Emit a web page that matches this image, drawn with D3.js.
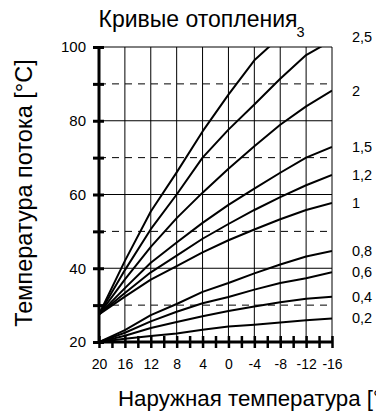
<!DOCTYPE html>
<html>
<head>
<meta charset="utf-8">
<script src="https://cdn.jsdelivr.net/npm/d3@7"></script>
<style>
  body { margin: 0; background: #fff; }
  svg { display: block; font-family: "Liberation Sans", Arial, sans-serif; }
</style>
</head>
<body>
<div id="chart"></div>
<script>
// Outside temperature points (x) and heating curves (flow temperature)
const temps = [20, 16, 12, 8, 4, 0, -4, -8, -12, -16];
const curveNames = ["3", "2,5", "2", "1,5", "1,2", "1", "0,8", "0,6", "0,4", "0,2"];
const curve3  = [27.5, 42.0, 55.4, 66.0, 77.1, 87.1, 96.4, 102.8];
const curve25 = [27.5, 39.5, 50.6, 60.0, 70.0, 77.6, 84.4, 91.4, 97.8, 101.8];
const curve2  = [27.5, 37.0, 45.8, 53.6, 60.5, 67.0, 73.1, 78.9, 83.9, 88.2];
const curve15 = [27.5, 34.6, 41.5, 47.0, 52.3, 57.2, 61.6, 65.9, 70.0, 72.9];
const curve12 = [27.5, 33.3, 38.9, 43.4, 48.0, 52.0, 55.8, 59.3, 62.5, 65.3];
const curve1  = [27.5, 32.3, 36.9, 40.6, 44.3, 47.6, 50.5, 53.3, 55.8, 57.7];
const curve08 = [20, 23.2, 27.3, 30.3, 33.6, 36.0, 38.6, 41.0, 43.2, 44.7];
const curve06 = [20, 22.5, 25.6, 28.2, 30.5, 32.2, 34.2, 36.0, 37.3, 38.9];
const curve04 = [20, 21.7, 23.8, 25.4, 27.0, 28.4, 29.6, 30.8, 31.7, 32.3];
const curve02 = [20, 20.9, 21.6, 22.3, 23.3, 24.2, 24.7, 25.3, 25.9, 26.4];
const curveValues = [curve3, curve25, curve2, curve15, curve12, curve1, curve08, curve06, curve04, curve02];

const yTicks = [20, 30, 40, 50, 60, 70, 80, 90, 100];
const yLabels = [20, 40, 60, 80, 100];
const xTicks = [20, 18, 16, 14, 12, 10, 8, 6, 4, 2, 0, -2, -4, -6, -8, -10, -12, -14, -16];
const xLabels = [20, 16, 12, 8, 4, 0, -4, -8, -12, -16];
const solidGrid = [40, 60, 80, 100];
const dashedGrid = [30, 50, 70, 90];

const width = 376, height = 414;
const margin = { top: 47, left: 99, right: 44, bottom: 72 };

const svg = d3.select("#chart").append("svg")
    .attr("width", width)
    .attr("height", height);

const x = d3.scaleLinear().domain([20, -16]).range([margin.left, width - margin.right]);
const y = d3.scaleLinear().domain([20, 100]).range([height - margin.bottom, margin.top]);

// grid
svg.append("g").selectAll("line")
    .data(xLabels.slice(1))
    .join("line")
    .attr("x1", d => x(d)).attr("x2", d => x(d))
    .attr("y1", y(20)).attr("y2", y(100))
    .attr("stroke", "#000").attr("stroke-width", 1);

svg.append("g").selectAll("line")
    .data(solidGrid)
    .join("line")
    .attr("x1", x(20)).attr("x2", x(-16))
    .attr("y1", d => y(d)).attr("y2", d => y(d))
    .attr("stroke", "#000").attr("stroke-width", 1);

svg.append("g").selectAll("line")
    .data(dashedGrid)
    .join("line")
    .attr("x1", x(20)).attr("x2", x(-16))
    .attr("y1", d => y(d)).attr("y2", d => y(d))
    .attr("stroke", "#000").attr("stroke-width", 1)
    .attr("stroke-dasharray", "7,6");

// curves, clipped to plot area
svg.append("clipPath").attr("id", "plot")
    .append("rect")
    .attr("x", x(20)).attr("y", y(100))
    .attr("width", x(-16) - x(20)).attr("height", y(20) - y(100));

const line = d3.line()
    .x((d, i) => x(temps[i]))
    .y(d => y(d));

svg.append("g").attr("clip-path", "url(#plot)")
    .selectAll("path")
    .data(curveValues)
    .join("path")
    .attr("d", line)
    .attr("fill", "none")
    .attr("stroke", "#000")
    .attr("stroke-width", 2)
    .attr("stroke-linejoin", "round");

// curve labels
curveValues.forEach(function (vals, i) {
    var last = vals[vals.length - 1];
    var lx = x(-16) + 20, ly = y(last) + 5;
    if (last > 100) {
        if (vals.length < temps.length) { lx = x(-6.2) + 28; ly = y(100) - 10; } // curve 3 leaves the top early
        else { ly = y(100) - 5; }
    }
    svg.append("text")
        .attr("x", lx).attr("y", ly)
        .attr("font-size", "14.5px")
        .text(curveNames[i]);
});

// y axis
const yAxis = svg.append("g")
    .attr("transform", `translate(${x(20)},0)`)
    .call(d3.axisLeft(y).tickValues(yTicks)
        .tickFormat(d => yLabels.includes(d) ? d : "")
        .tickSize(6).tickPadding(7));
yAxis.select(".domain").attr("stroke-width", 3).attr("d", `M0,${y(20) + 1}V${y(100) - 1}`);
yAxis.selectAll(".tick line").attr("x1", 5).attr("x2", -6).attr("stroke-width", 3);
yAxis.selectAll(".tick text").attr("font-size", "15px").attr("font-family", null).attr("fill", "#000");

// x axis
const xAxis = svg.append("g")
    .attr("transform", `translate(0,${y(20)})`)
    .call(d3.axisBottom(x).tickValues(xTicks)
        .tickFormat(d => xLabels.includes(d) ? d : "")
        .tickSize(6).tickPadding(11));
xAxis.select(".domain").attr("stroke-width", 3).attr("d", `M${x(20) - 1},0H${x(-16) + 1}`);
xAxis.selectAll(".tick line").attr("y1", -6).attr("y2", 6).attr("stroke-width", 2.5);
xAxis.selectAll(".tick text").attr("font-size", "14px").attr("font-family", null).attr("fill", "#000");

// titles
svg.append("text")
    .attr("x", 198).attr("y", 27)
    .attr("text-anchor", "middle")
    .attr("font-size", "23px")
    .text("Кривые отопления");

svg.append("text")
    .attr("transform", `translate(32,${193}) rotate(-90)`)
    .attr("text-anchor", "middle")
    .attr("font-size", "23.5px")
    .text("Температура потока [°C]");

svg.append("text")
    .attr("x", 118).attr("y", 406)
    .attr("font-size", "22.3px")
    .text("Наружная температура [°C]");
</script>
</body>
</html>
